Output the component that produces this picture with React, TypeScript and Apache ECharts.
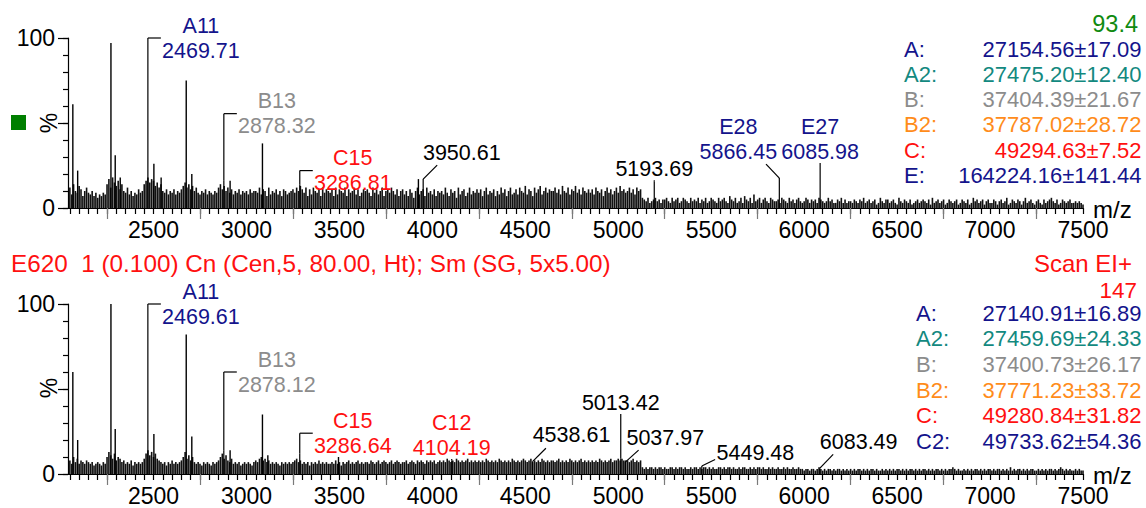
import { useEffect, useRef } from 'react';
import * as echarts from 'echarts';

const FONT = '"Liberation Sans", Arial, Helvetica, sans-serif';

// m/z axis
const MZ_MIN = 2040;
const MZ_MAX = 7500;
const MZ_TICK_LABELS = [2500, 3000, 3500, 4000, 4500, 5000, 5500, 6000, 6500, 7000, 7500];
const MZ_LONG_TICKS = [2250, 2750, 3250, 3750, 4250, 4750, 5250, 5750, 6250, 6750, 7250];
const MZ_MINOR_STEP = 50;
// intensity axis (%)
const PCT_LABELS = [0, 100];
const PCT_LONG_TICKS = [0, 50, 100];
const PCT_MINOR_TICKS = [0, 10, 20, 30, 40, 50, 60, 70, 80, 90, 100];

// baseline sampled every NOISE_STEP from NOISE_START, intensity in %
const NOISE_START = 2050;
const NOISE_STEP = 10;

const topNoise = [
  12, 8, 14, 10, 9, 13, 11, 7, 10, 12, 9, 8, 10, 7, 9, 6, 8, 7, 9, 8,
  14, 17, 12, 18, 15, 13, 16, 11, 14, 10, 9, 12, 8, 10, 7, 9, 8, 11, 9, 10,
  14, 16, 18, 15, 17, 16, 13, 15, 12, 14, 10, 9, 11, 8, 10, 9, 11, 8, 10, 9,
  11, 13, 15, 12, 14, 11, 13, 10, 12, 9, 8, 10, 9, 11, 8, 10, 9, 8, 10, 9,
  12, 14, 11, 13, 10, 12, 9, 11, 8, 10, 9, 11, 8, 10, 9, 10, 8, 11, 9, 10,
  10, 9, 12, 8, 11, 10, 7, 12, 8, 10, 9, 11, 8, 10, 7, 11, 10, 8, 9, 10,
  11, 9, 12, 10, 13, 11, 9, 12, 7, 11, 8, 12, 10, 9, 11, 7, 12, 9, 11, 10,
  9, 11, 7, 12, 8, 11, 10, 9, 12, 7, 11, 9, 10, 12, 8, 11, 7, 9, 11, 10,
  11, 9, 7, 12, 9, 11, 8, 10, 12, 7, 10, 11, 9, 12, 10, 8, 11, 7, 10, 11,
  8, 10, 7, 11, 9, 6, 10, 12, 8, 10, 11, 7, 12, 9, 10, 8, 11, 7, 10, 9,
  10, 8, 12, 9, 7, 11, 9, 10, 6, 12, 8, 10, 11, 7, 9, 12, 8, 10, 9, 11,
  9, 11, 7, 10, 12, 8, 10, 9, 11, 7, 10, 8, 12, 9, 11, 7, 10, 12, 8, 9,
  11, 8, 12, 10, 9, 13, 8, 11, 10, 7, 12, 9, 11, 13, 8, 10, 12, 9, 11, 10,
  10, 12, 9, 11, 8, 13, 10, 9, 12, 8, 11, 10, 13, 9, 11, 8, 12, 10, 9, 11,
  9, 11, 8, 12, 10, 9, 11, 7, 10, 12, 9, 11, 8, 10, 12, 9, 13, 10, 11, 9,
  10, 12, 9, 11, 8, 12, 10, 11, 6, 5, 4, 6, 3, 4, 5, 6, 4, 5, 3, 5,
  5, 6, 4, 3, 6, 4, 5, 6, 3, 4, 6, 5, 4, 3, 6, 4, 5, 4, 6, 3,
  5, 4, 6, 3, 4, 6, 5, 4, 3, 6, 4, 5, 6, 4, 3, 7, 5, 4, 6, 3,
  4, 6, 3, 7, 5, 4, 6, 3, 8, 4, 5, 6, 3, 5, 6, 4, 3, 6, 5, 4,
  4, 5, 3, 6, 5, 4, 3, 6, 4, 5, 3, 5, 6, 4, 3, 4, 6, 5, 3, 5,
  4, 5, 3, 6, 5, 4, 3, 4, 6, 4, 5, 3, 3, 5, 4, 6, 3, 5, 3, 4,
  4, 3, 5, 4, 3, 5, 4, 6, 3, 4, 5, 3, 4, 5, 2, 3, 6, 4, 3, 5,
  5, 3, 4, 5, 3, 2, 6, 4, 3, 5, 4, 3, 5, 2, 3, 4, 5, 3, 4, 5,
  4, 3, 5, 2, 6, 3, 4, 5, 3, 4, 5, 2, 3, 5, 4, 3, 4, 5, 2, 3,
  5, 4, 3, 5, 2, 3, 6, 4, 5, 3, 4, 5, 2, 4, 5, 3, 3, 5, 4, 2,
  4, 5, 3, 4, 6, 2, 3, 5, 4, 3, 5, 4, 2, 4, 6, 3, 4, 5, 3, 2,
  4, 5, 3, 2, 5, 3, 4, 5, 6, 4, 3, 5, 2, 3, 5, 4, 3, 4, 5, 3,
  3, 4, 3, 4, 3, 2,
];

const bottomNoise = [
  8, 6, 10, 7, 9, 6, 8, 7, 6, 8, 7, 6, 7, 5, 6, 7, 6, 5, 7, 6,
  10, 13, 11, 9, 12, 8, 10, 9, 7, 8, 6, 7, 6, 8, 5, 7, 6, 7, 6, 7,
  9, 12, 14, 11, 13, 10, 12, 9, 8, 7, 6, 7, 5, 7, 6, 8, 6, 7, 6, 7,
  8, 10, 13, 9, 11, 8, 10, 7, 6, 7, 6, 5, 7, 6, 7, 6, 5, 7, 6, 7,
  8, 10, 12, 9, 11, 8, 7, 9, 6, 7, 6, 7, 5, 6, 7, 6, 7, 6, 5, 7,
  8, 7, 9, 10, 8, 9, 7, 8, 6, 7, 6, 7, 6, 5, 7, 6, 7, 6, 7, 6,
  7, 8, 9, 7, 8, 6, 7, 6, 7, 5, 7, 6, 7, 6, 8, 6, 7, 6, 7, 6,
  6, 7, 6, 8, 6, 7, 5, 7, 6, 7, 8, 6, 7, 6, 7, 8, 6, 7, 6, 7,
  7, 6, 8, 7, 6, 7, 8, 6, 7, 8, 7, 6, 7, 8, 6, 7, 8, 7, 6, 7,
  7, 8, 6, 7, 8, 7, 6, 8, 7, 8, 7, 6, 8, 7, 8, 7, 8, 6, 7, 8,
  7, 8, 7, 9, 8, 7, 8, 7, 9, 8, 7, 8, 7, 8, 9, 7, 8, 7, 8, 7,
  8, 7, 8, 7, 9, 8, 7, 8, 7, 8, 7, 9, 8, 7, 8, 7, 8, 7, 9, 8,
  7, 8, 7, 8, 9, 8, 7, 8, 9, 7, 8, 7, 8, 7, 9, 8, 7, 8, 7, 8,
  8, 7, 8, 9, 7, 8, 7, 8, 7, 9, 8, 7, 8, 7, 8, 9, 7, 8, 7, 8,
  7, 8, 7, 8, 7, 9, 8, 7, 8, 7, 8, 9, 7, 8, 8, 9, 8, 9, 8, 8,
  8, 7, 8, 9, 7, 8, 7, 8, 4, 3, 4, 3, 4, 4, 3, 4, 3, 4, 4, 3,
  4, 3, 3, 4, 4, 3, 4, 3, 4, 4, 3, 4, 3, 3, 4, 3, 4, 4, 3, 4,
  3, 4, 4, 3, 4, 3, 4, 3, 3, 4, 4, 3, 4, 3, 4, 4, 3, 4, 3, 3,
  4, 3, 4, 4, 3, 3, 4, 3, 4, 3, 4, 4, 3, 4, 3, 3, 4, 3, 4, 3,
  3, 4, 3, 3, 4, 3, 4, 3, 3, 4, 3, 3, 4, 3, 3, 2, 3, 3, 2, 3,
  3, 2, 3, 4, 3, 2, 3, 2, 3, 3, 2, 3, 2, 3, 3, 2, 3, 2, 3, 2,
  3, 2, 3, 2, 3, 3, 2, 3, 2, 3, 2, 3, 3, 2, 3, 2, 2, 3, 2, 3,
  2, 3, 2, 3, 2, 3, 3, 2, 3, 2, 3, 2, 3, 3, 2, 3, 2, 3, 2, 3,
  3, 2, 3, 2, 3, 2, 3, 3, 2, 3, 2, 3, 2, 3, 3, 4, 3, 2, 3, 2,
  2, 3, 2, 3, 2, 3, 2, 3, 3, 2, 3, 2, 3, 2, 3, 3, 2, 3, 2, 3,
  3, 2, 3, 2, 3, 2, 4, 2, 3, 2, 3, 3, 2, 3, 2, 3, 2, 3, 3, 2,
  2, 3, 2, 3, 2, 3, 2, 3, 3, 2, 3, 2, 3, 4, 3, 2, 3, 2, 3, 2,
  2, 3, 2, 3, 2, 2,
];

// unlabelled peaks: [m/z, %]
const topPeaks: [number, number][] = [
  [2066, 61], [2092, 22], [2271, 97], [2294, 31], [2321, 18], [2502, 26], [2541, 18],
  [2676, 75], [2706, 20], [2912, 16], [3086, 38], [3925, 17],
];
const bottomPeaks: [number, number][] = [
  [2066, 60], [2092, 20], [2271, 100], [2294, 26.5], [2502, 23.5], [2676, 82], [2706, 22],
  [2912, 14], [3086, 35], [3115, 11], [3495, 10],
];

// labelled peaks: [m/z, %]
const topLabelled: [number, number][] = [
  [2469.71, 100], [2878.32, 16], [3286.81, 14], [3950.61, 17], [5193.69, 15.5], [5866.45, 17.6], [6085.98, 10],
];
const topLabelNames = ['A11', 'B13', 'C15', '', '', 'E28', 'E27'];
const bottomLabelled: [number, number][] = [
  [2469.61, 100], [2878.12, 14], [3286.64, 12], [4104.19, 8], [4538.61, 7.3], [5013.42, 9], [5037.97, 7], [5449.48, 4.7], [6083.49, 3.3],
];
const bottomLabelNames = ['A11', 'B13', 'C15', 'C12', '', '', '', '', ''];

// deconvoluted masses
const topMassNames = ['A:', 'A2:', 'B:', 'B2:', 'C:', 'E:'];
const topMassValues = ['27154.56±17.09', '27475.20±12.40', '37404.39±21.67', '37787.02±28.72', '49294.63±7.52', '164224.16±141.44'];
const bottomMassNames = ['A:', 'A2:', 'B:', 'B2:', 'C:', 'C2:'];
const bottomMassValues = ['27140.91±16.89', '27459.69±24.33', '37400.73±26.17', '37771.23±33.72', '49280.84±31.82', '49733.62±54.36'];

const NAVY = '#14148c';
const TEAL = '#13897f';
const GREY = '#8c8c8c';
const ORANGE = '#ff8c1a';
const RED = '#ff1010';
const GREEN = '#108a10';
const BLACK = '#000';

const topMassColors = [NAVY, TEAL, GREY, ORANGE, RED, NAVY];
const bottomMassColors = [NAVY, TEAL, GREY, ORANGE, RED, NAVY];
const topLabelColors = [NAVY, GREY, RED, BLACK, BLACK, NAVY, NAVY];
const bottomLabelColors = [NAVY, GREY, RED, RED, BLACK, BLACK, BLACK, BLACK, BLACK];

type LabelLayout =
  | { kind: 'bracket'; level: number }
  | { kind: 'leader'; lx: number; ly: number; tx: number; ty: number }
  | { kind: 'stem'; ty: number };

const topLayout: LabelLayout[] = [
  { kind: 'bracket', level: 100 },
  { kind: 'bracket', level: 55.5 },
  { kind: 'bracket', level: 22 },
  { kind: 'leader', lx: 14, ly: -14, tx: 38.6, ty: -26.3 },
  { kind: 'stem', ty: -12.4 },
  { kind: 'leader', lx: -13.3, ly: -14, tx: -41, ty: -25.6 },
  { kind: 'stem', ty: -39 },
];
const bottomLayout: LabelLayout[] = [
  { kind: 'bracket', level: 100 },
  { kind: 'bracket', level: 60 },
  { kind: 'bracket', level: 24 },
  { kind: 'stem', ty: -12.4 },
  { kind: 'leader', lx: 13.4, ly: -13.3, tx: 39, ty: -26.6 },
  { kind: 'stem', ty: -55.7 },
  { kind: 'leader', lx: 13.3, ly: -12, tx: 40, ty: -24 },
  { kind: 'leader', lx: 13.3, ly: -6.5, tx: 53.6, ty: -13.5 },
  { kind: 'leader', lx: 13.5, ly: -14, tx: 39, ty: -26.7 },
];

function minorTicks(): number[] {
  const out: number[] = [];
  for (let v = MZ_MIN + 10; v <= MZ_MAX; v += MZ_MINOR_STEP) out.push(v);
  return out;
}

function noisePairs(values: number[]): [number, number][] {
  return values.map((v, i) => [NOISE_START + i * NOISE_STEP, v]);
}

function stickSeries(axis: number, data: [number, number][], width: number, color: string) {
  return {
    type: 'custom',
    coordinateSystem: 'cartesian2d',
    xAxisIndex: axis,
    yAxisIndex: axis,
    silent: true,
    data,
    encode: { x: 0, y: 1 },
    renderItem: (_p: any, api: any) => {
      const x = api.value(0);
      const h = api.value(1);
      const a = api.coord([x, 0]);
      const b = api.coord([x, h]);
      return {
        type: 'line',
        shape: { x1: a[0], y1: a[1], x2: b[0], y2: b[1] },
        style: { stroke: color, lineWidth: width },
      };
    },
  };
}

function labelSeries(
  axis: number,
  peaks: [number, number][],
  names: string[],
  layouts: LabelLayout[],
  colors: string[],
) {
  return {
    type: 'custom',
    coordinateSystem: 'cartesian2d',
    xAxisIndex: axis,
    yAxisIndex: axis,
    silent: true,
    clip: false,
    z: 5,
    data: peaks.map((p, i) => [p[0], p[1], i]),
    encode: { x: 0, y: 1 },
    renderItem: (_p: any, api: any) => {
      const mz = api.value(0);
      const h = api.value(1);
      const i = api.value(2);
      const base = api.coord([mz, 0]);
      const top = api.coord([mz, h]);
      const L = layouts[i];
      const color = colors[i];
      const name = names[i];
      const text = (x: number, y: number, t: string) => ({
        type: 'text',
        x,
        y,
        style: {
          text: t,
          fill: color,
          fontSize: 21.5,
          fontFamily: FONT,
          align: 'center',
          verticalAlign: 'middle',
        },
      });
      const line = (x1: number, y1: number, x2: number, y2: number) => ({
        type: 'line',
        shape: { x1, y1, x2, y2 },
        style: { stroke: '#000', lineWidth: 1.2 },
      });
      const children: any[] = [line(base[0], base[1], top[0], top[1])];
      let tx = top[0];
      let ty = top[1];
      if (L.kind === 'bracket') {
        const ly = api.coord([mz, L.level])[1];
        children.push(line(top[0], top[1], top[0], ly));
        children.push(line(top[0], ly, top[0] + 13, ly));
        tx = top[0] + 53;
        ty = ly + 12.5;
      } else if (L.kind === 'leader') {
        children.push(line(top[0], top[1], top[0] + L.lx, top[1] + L.ly));
        tx = top[0] + L.tx;
        ty = top[1] + L.ty;
      } else {
        ty = top[1] + L.ty;
        if (ty + 11 < top[1]) children.push(line(top[0], top[1], top[0], ty + 11));
      }
      children.push(text(tx, ty, mz.toFixed(2)));
      if (name) children.push(text(tx, ty - 25, name));
      return { type: 'group', children };
    },
  };
}

function massTexts(
  names: string[],
  values: string[],
  colors: string[],
  nameX: number,
  valueRight: number,
  y0: number,
  dy: number,
) {
  const out: any[] = [];
  names.forEach((n, i) => {
    const y = y0 + i * dy;
    out.push({
      type: 'text', x: nameX, y,
      style: { text: n, fill: colors[i], fontSize: 22, fontFamily: FONT, align: 'left', verticalAlign: 'middle' },
    });
    out.push({
      type: 'text', x: valueRight, y,
      style: { text: values[i], fill: colors[i], fontSize: 22, fontFamily: FONT, align: 'right', verticalAlign: 'middle' },
    });
  });
  return out;
}

export default function App() {
  const ref = useRef<HTMLDivElement>(null);

  useEffect(() => {
    if (!ref.current) return;
    const chart = echarts.init(ref.current, undefined, { renderer: 'svg' });
    const minor = minorTicks();

    const grids = [
      { left: 68, width: 1015, top: 38, height: 170, outerBoundsMode: 'none', containLabel: false },
      { left: 68, width: 1015, top: 304, height: 170, outerBoundsMode: 'none', containLabel: false },
    ];

    const xAxes: any[] = [];
    const yAxes: any[] = [];
    grids.forEach((_g, gi) => {
      xAxes.push({
        type: 'value', gridIndex: gi, min: MZ_MIN, max: MZ_MAX, position: 'bottom',
        axisLine: { show: true, lineStyle: { color: '#000', width: 1.2 } },
        axisTick: { show: true, length: 6, customValues: minor, lineStyle: { color: '#000', width: 1.2 } },
        axisLabel: {
          show: true, customValues: MZ_TICK_LABELS, fontSize: 23, color: '#000',
          fontFamily: FONT, margin: 10, formatter: (v: number) => String(v),
        },
        splitLine: { show: false },
      });
      xAxes.push({
        type: 'value', gridIndex: gi, min: MZ_MIN, max: MZ_MAX, position: 'bottom',
        axisLine: { show: false },
        axisTick: { show: true, length: 11, customValues: MZ_LONG_TICKS, lineStyle: { color: '#7a7a7a', width: 1.2 } },
        axisLabel: { show: false },
        splitLine: { show: false },
      });
      yAxes.push({
        type: 'value', gridIndex: gi, min: 0, max: 100, position: 'left',
        axisLine: { show: true, lineStyle: { color: '#000', width: 1.2 } },
        axisTick: { show: true, length: 5, customValues: PCT_MINOR_TICKS, lineStyle: { color: '#000', width: 1.2 } },
        axisLabel: {
          show: true, customValues: PCT_LABELS, fontSize: 23, color: '#000',
          fontFamily: FONT, margin: 13, formatter: (v: number) => String(v),
        },
        splitLine: { show: false },
      });
      yAxes.push({
        type: 'value', gridIndex: gi, min: 0, max: 100, position: 'left',
        axisLine: { show: false },
        axisTick: { show: true, length: 10, customValues: PCT_LONG_TICKS, lineStyle: { color: '#000', width: 1.2 } },
        axisLabel: { show: false },
        splitLine: { show: false },
      });
    });

    const axisText = (x: number, y: number, t: string, rotation = 0) => ({
      type: 'text', x, y, rotation,
      style: { text: t, fill: '#000', fontSize: rotation ? 23 : 24, fontFamily: FONT, align: rotation ? 'center' : 'left', verticalAlign: 'middle' },
    });

    const graphics: any[] = [
      { type: 'rect', shape: { x: 11, y: 115, width: 15, height: 15 }, style: { fill: '#007f00' } },
      axisText(49, 123, '%', Math.PI / 2),
      axisText(49, 388, '%', Math.PI / 2),
      axisText(1093, 209, 'm/z'),
      axisText(1093, 475, 'm/z'),
      {
        type: 'text', x: 1138, y: 24,
        style: { text: '93.4', fill: GREEN, fontSize: 23.5, fontFamily: FONT, align: 'right', verticalAlign: 'middle' },
      },
      {
        type: 'text', x: 11, y: 263,
        style: { text: 'E620\u00a0 1 (0.100) Cn (Cen,5, 80.00, Ht); Sm (SG, 5x5.00)', fill: RED, fontSize: 24.3, fontFamily: FONT, align: 'left', verticalAlign: 'middle' },
      },
      {
        type: 'text', x: 1132, y: 263,
        style: { text: 'Scan EI+', fill: RED, fontSize: 24, fontFamily: FONT, align: 'right', verticalAlign: 'middle' },
      },
      {
        type: 'text', x: 1137, y: 290,
        style: { text: '147', fill: RED, fontSize: 22.5, fontFamily: FONT, align: 'right', verticalAlign: 'middle' },
      },
      ...massTexts(topMassNames, topMassValues, topMassColors, 904, 1141.5, 49, 25.3),
      ...massTexts(bottomMassNames, bottomMassValues, bottomMassColors, 916, 1141.5, 313.3, 25.6),
    ];

    chart.setOption({
      animation: false,
      backgroundColor: '#fff',
      grid: grids,
      xAxis: xAxes,
      yAxis: yAxes,
      graphic: graphics,
      series: [
        stickSeries(0, noisePairs(topNoise), 1.6, '#111'),
        stickSeries(0, topPeaks, 1.4, '#000'),
        labelSeries(0, topLabelled, topLabelNames, topLayout, topLabelColors),
        stickSeries(2, noisePairs(bottomNoise), 1.6, '#111'),
        stickSeries(2, bottomPeaks, 1.4, '#000'),
        labelSeries(2, bottomLabelled, bottomLabelNames, bottomLayout, bottomLabelColors),
      ],
    });
    return () => chart.dispose();
  }, []);

  return (
    <div
      ref={ref}
      style={{ position: 'fixed', left: 0, top: 0, width: 1146, height: 508, background: '#fff' }}
    />
  );
}
